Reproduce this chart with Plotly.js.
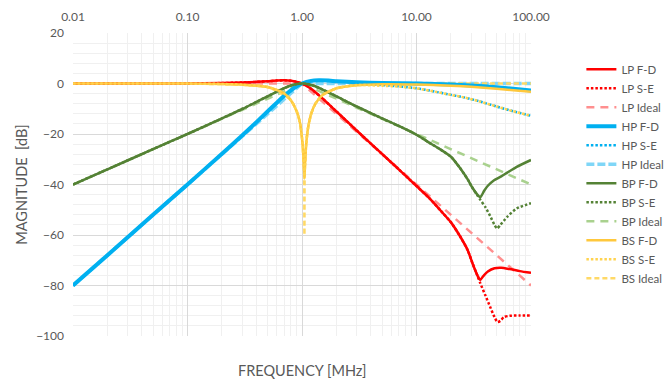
<!DOCTYPE html>
<html><head><meta charset="utf-8">
<script src="https://cdn.plot.ly/plotly-3.0.1.min.js"></script>
<style>html,body{margin:0;padding:0;background:#fff}#chart{width:667px;height:383px}</style>
</head><body><div id="chart"></div>
<script>
// ---- data ----
const tickVals = [0.01, 0.1, 1, 10, 100];
const tickText = ["0.01", "0.10", "1.00", "10.00", "100.00"];

const lpFdF = [0.01,0.1,0.2,0.3,0.4,0.5,0.6,0.7,0.8,0.9,1.0,1.1,1.2,1.5,2,3,5,7,10,13,16,20,24,28,31,34,36,38,42,48,55,65,80,100];
const lpFdY = [0,0.04,0.17,0.38,0.65,0.9,1.15,1.25,1.1,0.65,0,-0.98,-2.1,-5.8,-11.1,-18.6,-27.9,-34,-40.6,-45.5,-50,-55,-60.5,-66,-71.5,-76,-77.8,-76.5,-74.5,-73.2,-73,-73.5,-74.3,-75];
const lpSeF = [0.01,0.1,0.2,0.3,0.4,0.5,0.6,0.7,0.8,0.9,1.0,1.1,1.2,1.5,2,3,5,7,10,13,16,20,24,28,31,34,36,40,44,48,51,54,58,65,80,100];
const lpSeY = [0,0.04,0.17,0.38,0.65,0.9,1.15,1.25,1.1,0.65,0,-0.98,-2.1,-5.8,-11.1,-18.6,-27.9,-34,-40.6,-45.5,-50,-55,-60.5,-66,-71.5,-76,-79,-84,-88.5,-92.5,-94.5,-94,-92.5,-92,-91.9,-91.9];
const lpIdF = [0.01,1,10,100];
const lpIdY = [0,0,-40,-80];

const hpFdF = [0.01,0.02,0.05,0.1,0.2,0.3,0.4,0.5,0.6,0.7,0.8,0.9,1.0,1.2,1.4,1.7,2,3,5,10,20,30,50,70,100];
const hpFdY = [-80,-68,-52,-40,-27.8,-20.6,-15.3,-11.1,-7.7,-4.9,-2.7,-1.1,0,1.04,1.25,1.15,0.9,0.45,0.17,0,-0.4,-0.8,-1.5,-2.1,-2.8];
const hpSeF = [0.01,0.02,0.05,0.1,0.2,0.3,0.4,0.5,0.6,0.7,0.8,0.9,1.0,1.2,1.4,1.7,2,3,5,7,10,13,20,26,35,50,70,100];
const hpSeY = [-80,-68,-52,-40,-27.8,-20.6,-15.3,-11.1,-7.7,-4.9,-2.7,-1.1,0,1.04,1.25,1.15,0.9,0.3,-0.6,-1.1,-1.9,-2.8,-4.5,-5.5,-7,-9.1,-11,-12.8];
const hpIdF = [0.01,0.1,1,100];
const hpIdY = [-80,-40,0,0];

const bpFdF = [0.01,0.02,0.05,0.1,0.2,0.3,0.4,0.5,0.6,0.7,0.8,0.9,1,1.1,1.25,1.5,2,3,5,7,10,13,16,20,24,28,31,34,36,39,42,47,55,62,75,100];
const bpFdY = [-40,-34,-26,-20,-13.8,-10.1,-7.3,-5.1,-3.3,-1.85,-0.8,-0.19,0,-0.16,-0.8,-2.3,-5.1,-9.1,-13.8,-16.8,-20.3,-23.5,-26,-29,-33.5,-38,-41.5,-44,-45.1,-42.5,-40.5,-38.5,-36.8,-35.3,-33,-30.3];
const bpSeF = [0.01,0.02,0.05,0.1,0.2,0.3,0.4,0.5,0.6,0.7,0.8,0.9,1,1.1,1.25,1.5,2,3,5,7,10,13,16,20,24,28,31,34,36,40,44,48,50.5,54,62,75,100];
const bpSeY = [-40,-34,-26,-20,-13.8,-10.1,-7.3,-5.1,-3.3,-1.85,-0.8,-0.19,0,-0.16,-0.8,-2.3,-5.1,-9.1,-13.8,-16.8,-20.3,-23.5,-26,-29,-33.5,-38,-41.5,-44.3,-46,-49,-52.5,-56,-57.4,-56,-52.8,-49.5,-47.4];
const bpIdF = [0.01,0.1,1,10,100];
const bpIdY = [-40,-20,0,-20,-40];

const bsFdF = [0.01,0.1,0.2,0.3,0.4,0.5,0.6,0.7,0.8,0.9,0.96,1.01,1.03,1.04,1.05,1.06,1.07,1.09,1.13,1.21,1.31,1.51,2,3,5,10,20,30,50,70,100];
const bsFdY = [0,-0.04,-0.18,-0.45,-0.9,-1.42,-2.5,-4.0,-6.6,-11.1,-15.5,-23.5,-29.5,-33,-37.5,-33,-29.5,-23.5,-17.5,-11.6,-8,-4.6,-1.9,-0.7,-0.3,-0.4,-0.9,-1.3,-2.1,-2.7,-3.3];
const bsSeF = [0.01,0.1,0.2,0.3,0.4,0.5,0.6,0.7,0.8,0.9,0.96,1.01,1.03,1.04,1.05,1.06,1.07,1.09,1.13,1.21,1.31,1.51,2,3,5,7,10,13,20,26,35,50,70,100];
const bsSeY = [0,-0.04,-0.18,-0.45,-0.9,-1.42,-2.5,-4.0,-6.6,-11.1,-15.5,-23.5,-29.5,-33,-37.5,-33,-29.5,-23.5,-17.5,-11.6,-8,-4.6,-1.9,-0.6,-0.9,-1.2,-1.9,-2.8,-4.5,-5.5,-7,-9.1,-11,-12.8];
const bsIdF = [0.01,0.1,0.5,0.8,0.9,0.96,1.01,1.03,1.045,1.05,1.055,1.07,1.09,1.13,1.21,1.31,1.51,2,3,5,10,100];
const bsIdY = [0,-0.04,-1.4,-6.6,-11.1,-15.5,-23.5,-29.5,-36,-60,-36,-29.5,-23.5,-17.5,-11.6,-8,-4.6,-1.9,-0.63,-0.2,-0.05,0];

const names = ["LP F-D","LP S-E","LP Ideal","HP F-D","HP S-E","HP Ideal","BP F-D","BP S-E","BP Ideal","BS F-D","BS S-E","BS Ideal"];

// ---- styles ----
const styles = [
  {c:"#FF0000", w:2.5, d:"solid"},
  {c:"#FF0000", w:2.5, d:"2.5px,2px"},
  {c:"#FF8F8F", w:2.5, d:"8px,6px"},
  {c:"#00B0F0", w:4,   d:"solid"},
  {c:"#00B0F0", w:2.5, d:"2.5px,2px"},
  {c:"#7FD6F7", w:3.5, d:"8px,3px"},
  {c:"#548235", w:2.5, d:"solid"},
  {c:"#548235", w:2.5, d:"2.5px,2px"},
  {c:"#A9D18E", w:2.5, d:"8px,6px"},
  {c:"#FFC83C", w:2.5, d:"solid"},
  {c:"#FFD34F", w:2.5, d:"2.5px,2px"},
  {c:"#FFD966", w:2.5, d:"5px,3px"}
];
const isIdeal = [false,false,true,false,false,true,false,false,true,false,false,false];
const xs = [lpFdF,lpSeF,lpIdF,hpFdF,hpSeF,hpIdF,bpFdF,bpSeF,bpIdF,bsFdF,bsSeF,bsIdF];
const ys = [lpFdY,lpSeY,lpIdY,hpFdY,hpSeY,hpIdY,bpFdY,bpSeY,bpIdY,bsFdY,bsSeY,bsIdY];

const traces = names.map((n,i)=>({
  type:"scatter", mode:"lines", name:n, x:xs[i], y:ys[i], legendgroup:"g"+i,
  legendrank: i+1,
  line:{color:styles[i].c, width:styles[i].w, dash:styles[i].d,
        shape: isIdeal[i] ? "linear" : "spline", smoothing:0.6},
  hoverinfo:"skip"
}));
// ideal curves drawn underneath the measured ones
const drawOrder = [2,5,8,11,0,1,3,4,6,7,9,10];
const ordered = drawOrder.map(i=>traces[i]);

const layout = {
  width:667, height:383,
  margin:{l:73, r:136, t:33, b:47, autoexpand:false},
  paper_bgcolor:"#fff", plot_bgcolor:"#fff",
  font:{family:"Lato, 'Open Sans', sans-serif", color:"#595959", size:12},
  showlegend:true,
  legend:{x:1.11, xanchor:"left", y:0.928, yanchor:"top", tracegroupgap:5.5, traceorder:"normal",
          font:{size:11.5, color:"#595959"}, bgcolor:"rgba(0,0,0,0)"},
  xaxis:{type:"log", range:[-2,2], side:"top", tickvals:tickVals, ticktext:tickText,
         showgrid:true, gridcolor:"#d9d9d9", gridwidth:1, zeroline:false,
         ticks:"", showline:false, ticklabelstandoff:9,
         minor:{dtick:"D1", showgrid:true, gridcolor:"#f0f0f0", ticks:""},
         tickfont:{size:12, color:"#595959"}},
  yaxis:{range:[-100,20], dtick:20, tick0:0, showgrid:true, gridcolor:"#d9d9d9", gridwidth:1,
         zeroline:false, ticks:"", showline:false, ticklabelstandoff:8,
         minor:{dtick:4, showgrid:true, gridcolor:"#f0f0f0", ticks:""},
         tickfont:{size:12, color:"#595959"},
         title:{text:"MAGNITUDE  [dB]", font:{size:14.5, color:"#595959"}, standoff:5}},
  annotations:[{text:"FREQUENCY [MHz]", xref:"paper", yref:"paper", x:0.5, y:-0.115,
                xanchor:"center", yanchor:"middle", showarrow:false,
                font:{size:14.5, color:"#595959"}}]
};
Plotly.newPlot("chart", ordered, layout, {displayModeBar:false, staticPlot:true});
</script></body></html>
